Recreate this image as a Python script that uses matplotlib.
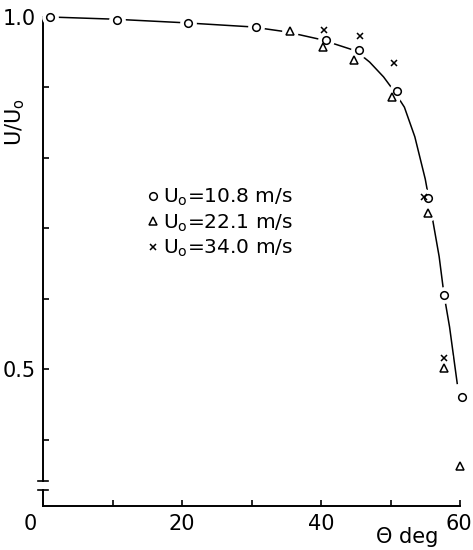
import numpy as np
import matplotlib
matplotlib.use('Agg')
import matplotlib.pyplot as plt
from matplotlib.lines import Line2D
from matplotlib.transforms import ScaledTranslation

plt.rcParams['font.family'] = ['DejaVu Sans']

# data (theta in deg, U/Uo)
theta_108 = [1, 10.7, 20.8, 30.6, 40.7, 45.5, 50.9, 55.4, 57.7, 60.3]
u_108 = [1.0, 0.996, 0.991, 0.986, 0.967, 0.953, 0.895, 0.743, 0.606, 0.461]
theta_221 = [35.5, 40.3, 44.7, 50.2, 55.4, 57.7, 60.0]
u_221 = [0.980, 0.957, 0.939, 0.887, 0.722, 0.502, 0.363]
theta_340 = [40.4, 45.6, 50.5, 54.8, 57.7]
u_340 = [0.982, 0.973, 0.935, 0.745, 0.516]

# fitted curve as drawn
theta_fit = [1, 10, 20, 30, 35, 40, 45, 47, 49, 50.5, 52, 53.5, 55, 56, 57, 57.7, 58.5, 59.6]
u_fit = [1.0, 0.997, 0.992, 0.986, 0.979, 0.968, 0.952, 0.936, 0.915, 0.895,
         0.872, 0.83, 0.77, 0.716, 0.66, 0.606, 0.56, 0.48]

legend_labels = ['U$_\\mathregular{o}$=10.8 m/s',
                 'U$_\\mathregular{o}$=22.1 m/s',
                 'U$_\\mathregular{o}$=34.0 m/s']

W, H = 473, 550
fig = plt.figure(figsize=(W / 100, H / 100), dpi=100)
ax = fig.add_axes([43 / W, (H - 506) / H, (460 - 43) / W, (506 - 17) / H])
ax.set_xlim(0, 60)
ax.set_ylim(0.306, 1.0)

ax.plot(theta_fit, u_fit, color='black', lw=1.1, zorder=2, clip_on=False)

# white halos make the gaps in the curve around each marker
for xs, ys in [(theta_108, u_108), (theta_221, u_221), (theta_340, u_340)]:
    ax.plot(xs, ys, 'o', ms=11, color='white', zorder=3, clip_on=False)

ax.plot(theta_108, u_108, 'o', ms=5.5, mfc='white', mec='black', mew=1.1,
        zorder=4, clip_on=False)
ax.plot(theta_221, u_221, '^', ms=6, mfc='white', mec='black', mew=1.1,
        zorder=4, clip_on=False)
ax.plot(theta_340, u_340, 'x', ms=5, color='black', mew=1.1,
        zorder=4, clip_on=False)

# spines
for s in ['top', 'right']:
    ax.spines[s].set_visible(False)
ax.spines['bottom'].set_linewidth(1.4)
ax.spines['left'].set_linewidth(1.4)
ax.spines['left'].set_bounds(0.342, 1.0)
# lower stub of the broken y axis and its break marks
ax.plot([0, 0], [0.306, 0.329], color='black', lw=1.4, clip_on=False, zorder=5)
ax.plot([-0.7, 0.7], [0.342, 0.342], color='black', lw=1.2, clip_on=False)
ax.plot([-0.7, 0.7], [0.329, 0.329], color='black', lw=1.2, clip_on=False)

ax.set_xticks([0, 20, 40, 60])
ax.set_xticks([10, 30, 50], minor=True)
ax.set_xticklabels(['0', '20', '40', '60'])
ax.set_yticks([0.5, 1.0])
ax.set_yticks([0.4, 0.6, 0.7, 0.8, 0.9], minor=True)
ax.set_yticklabels(['0.5', '1.0'])
ax.tick_params(which='both', direction='in', length=4, width=1.2, labelsize=15)
ax.tick_params(axis='x', pad=6)
ax.tick_params(axis='y', pad=5)

lbls = ax.get_xticklabels()
lbls[0].set_transform(lbls[0].get_transform() + ScaledTranslation(-0.13, 0, fig.dpi_scale_trans))
lbls[-1].set_transform(lbls[-1].get_transform() + ScaledTranslation(-0.01, 0, fig.dpi_scale_trans))

fig.text(15 / W, 1 - 122 / H, 'U/U$_\\mathregular{o}$', rotation=90,
         ha='center', va='center', fontsize=15)
fig.text(407 / W, 1 - 537 / H, 'Θ deg', ha='center', va='center', fontsize=15)

handles = [Line2D([], [], ls='none', marker='o', ms=5.5, mfc='white', mec='black', mew=1.1),
           Line2D([], [], ls='none', marker='^', ms=6, mfc='white', mec='black', mew=1.1),
           Line2D([], [], ls='none', marker='x', ms=5, color='black', mew=1.1)]
ax.legend(handles, legend_labels, loc='upper left',
          bbox_to_anchor=(147 / W, 1 - 187 / H), bbox_transform=fig.transFigure,
          frameon=False, fontsize=14.5, handlelength=0.6, handletextpad=0.2,
          labelspacing=0.2, borderpad=0, borderaxespad=0)

fig.savefig('out.png', dpi=100)
